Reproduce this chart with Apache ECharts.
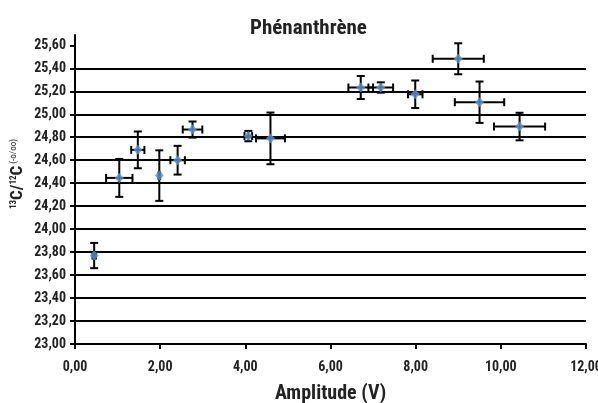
<!DOCTYPE html>
<html>
<head>
<meta charset="utf-8">
<script src="https://cdn.jsdelivr.net/npm/echarts@6/dist/echarts.min.js"></script>
<style>html,body{margin:0;padding:0;background:#fff;}#c{width:598px;height:403px;}</style>
</head>
<body>
<div id="c"></div>
<script>
const amplitude = [0.45, 1.04, 1.475, 1.98, 2.41, 2.76, 4.07, 4.59, 6.71, 7.18, 7.99, 9.0, 9.5, 10.44];
const ratio     = [23.77, 24.446, 24.69, 24.466, 24.60, 24.867, 24.81, 24.79, 25.233, 25.233, 25.174, 25.483, 25.105, 24.893];
const xError    = [0.04, 0.31, 0.155, 0.02, 0.17, 0.23, 0.09, 0.34, 0.29, 0.29, 0.17, 0.6, 0.58, 0.6];
const yError    = [0.11, 0.165, 0.16, 0.22, 0.125, 0.07, 0.045, 0.225, 0.1, 0.045, 0.12, 0.135, 0.18, 0.12];
const xTicks = {min: 0, max: 12, interval: 2};
const yTickValues = [23.0, 23.2, 23.4, 23.6, 23.8, 24.0, 24.2, 24.4, 24.6, 24.8, 25.0, 25.2, 25.4, 25.6];
const yAxisRange = {min: 23, max: 25.69};
const titleText = 'Phénanthrène';
const xTitle = 'Amplitude (V)';

const FONT = '"Roboto Condensed", "Liberation Sans", sans-serif';
const fmt = v => v.toFixed(2).replace('.', ',');

const points = amplitude.map((x, i) => [x, ratio[i], xError[i], yError[i]]);

const chart = echarts.init(document.getElementById('c'), null, {renderer: 'canvas'});
chart.setOption({
  animation: false,
  backgroundColor: '#fff',
  title: {
    text: titleText, left: 245, top: 13,
    textStyle: {fontFamily: FONT, fontWeight: 'bold', fontSize: 21, color: '#222'}
  },
  grid: {left: 75, right: 12, top: 35, bottom: 59, outerBoundsMode: 'none', containLabel: false},
  xAxis: {
    type: 'value', min: xTicks.min, max: xTicks.max, interval: xTicks.interval,
    name: xTitle, nameLocation: 'middle', nameGap: 40,
    nameTextStyle: {fontFamily: FONT, fontWeight: 'bold', fontSize: 20, color: '#222'},
    axisLine: {show: true, onZero: false, lineStyle: {color: '#000', width: 2}},
    axisTick: {show: true, length: 5, inside: false, lineStyle: {color: '#000', width: 2}},
    axisLabel: {fontFamily: FONT, fontWeight: 'bold', fontSize: 14, color: '#222', margin: 16, formatter: fmt},
    splitLine: {show: false}
  },
  yAxis: {
    type: 'value', min: yAxisRange.min, max: yAxisRange.max, interval: 0.2,
    axisLine: {show: true, lineStyle: {color: '#000', width: 2}},
    axisTick: {show: true, length: 5, customValues: yTickValues, lineStyle: {color: '#000', width: 2}},
    axisLabel: {fontFamily: FONT, fontWeight: 'bold', fontSize: 14, color: '#222', margin: 9,
      customValues: yTickValues, formatter: fmt},
    splitLine: {show: true, showMaxLine: false, lineStyle: {color: '#000', width: 2}}
  },
  graphic: [{
    type: 'text', x: 18, y: 174, rotation: Math.PI / 2,
    style: {
      text: '{sup|13}{b|C/}{sup|12}{b|C}{sm| (-o/oo)}',
      align: 'center', verticalAlign: 'middle',
      fontFamily: FONT, fill: '#222',
      rich: {
        sup: {fontFamily: FONT, fontWeight: 'bold', fontSize: 9, verticalAlign: 'top', lineHeight: 18},
        b: {fontFamily: FONT, fontWeight: 'bold', fontSize: 17, lineHeight: 18},
        sm: {fontFamily: FONT, fontSize: 9, verticalAlign: 'top', lineHeight: 18}
      }
    }
  }],
  series: [{
    type: 'custom',
    data: points,
    clip: false,
    z: 2,
    renderItem: function (params, api) {
      const x = api.value(0), y = api.value(1), ex = api.value(2), ey = api.value(3);
      const l = api.coord([x - ex, y]), r = api.coord([x + ex, y]);
      const t = api.coord([x, y + ey]), b = api.coord([x, y - ey]);
      const cap = 4;
      const st = {stroke: '#000', lineWidth: 2};
      const line = (x1, y1, x2, y2) => ({type: 'line', shape: {x1, y1, x2, y2}, style: st});
      return {
        type: 'group',
        children: [
          line(l[0], l[1], r[0], r[1]),
          line(l[0], l[1] - cap, l[0], l[1] + cap),
          line(r[0], r[1] - cap, r[0], r[1] + cap),
          line(t[0], t[1], b[0], b[1]),
          line(t[0] - cap, t[1], t[0] + cap, t[1]),
          line(b[0] - cap, b[1], b[0] + cap, b[1])
        ]
      };
    }
  }, {
    type: 'scatter',
    data: points.map(p => [p[0], p[1]]),
    symbol: 'diamond',
    symbolSize: [9, 10],
    itemStyle: {color: '#5E96D4'},
    z: 3
  }]
});
</script>
</body>
</html>
